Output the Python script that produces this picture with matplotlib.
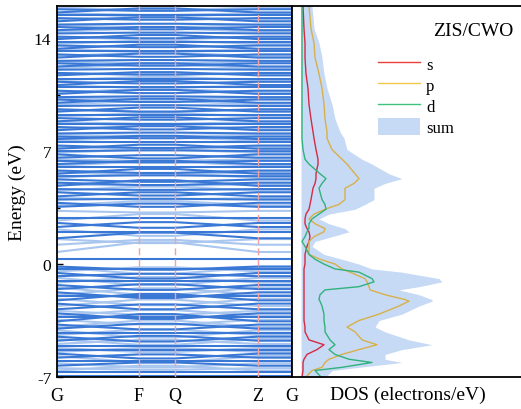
import numpy as np
import matplotlib
matplotlib.use("Agg")
import matplotlib.pyplot as plt
from matplotlib.patches import Patch
from matplotlib.lines import Line2D

plt.rcParams['font.family'] = ['Liberation Serif', 'DejaVu Serif']
plt.rcParams['axes.unicode_minus'] = False

# k-path (distance along path) and labels
k_nodes = [0, 82, 118, 201, 235]
k_labels = ["G", "F", "Q", "Z", "G"]

# bands: energy at G and at F (path G-F-Q-Z-G, F=Q, Z=G)
dark_val_G = [-0.15, -0.30, -0.55, -0.75, -1.05, -1.30, -1.55, -1.75, -2.00, -2.25, -2.45, -2.80, -3.05, -3.30,
              -3.55, -3.75, -4.00, -4.25, -4.50, -4.75, -5.10, -5.30, -5.55, -5.80, -6.00, -6.30, -6.70, -6.95]
dark_val_F = [-0.35, -0.30, -0.90, -0.60, -1.05, -1.60, -1.25, -2.10, -2.00, -1.85, -2.80, -2.50, -3.40, -3.30,
              -3.10, -4.05, -3.70, -4.25, -4.80, -4.45, -5.10, -5.30, -5.85, -5.60, -6.00, -6.10, -6.70, -6.95]
dark_gap_G = [0.30, 1.60, 2.00, 2.30, 2.55, 2.86]
dark_gap_F = [0.30, 1.95, 2.00, 2.60, 2.25, 2.86]
dark_con_G = [3.55, 3.80, 4.00, 4.20, 4.45, 4.65, 4.85, 5.05, 5.25, 5.45, 5.60, 5.80, 6.00, 6.20, 6.40, 6.60,
              6.80, 7.00, 7.15, 7.35, 7.55, 7.75, 7.90, 8.10, 8.30, 8.50, 8.70, 8.85, 9.05, 9.25, 9.45, 9.60,
              9.80, 10.00, 10.20, 10.35, 10.55, 10.75, 10.95, 11.10, 11.30, 11.50, 11.70, 11.85, 12.05, 12.25,
              12.45, 12.60, 12.80, 13.00, 13.20, 13.35, 13.55, 13.75, 13.95, 14.10, 14.30, 14.50, 14.70, 14.85,
              15.05, 15.25, 15.45, 15.60, 15.80]
dark_con_F = [3.75, 3.55, 4.05, 4.45, 4.25, 4.60, 5.20, 4.90, 5.10, 5.50, 5.90, 5.65, 6.00, 6.40, 6.30, 6.75,
              6.55, 7.05, 7.40, 7.20, 7.55, 7.95, 7.80, 8.15, 8.55, 8.35, 8.70, 9.10, 8.95, 9.25, 9.70, 9.45,
              9.85, 10.25, 10.05, 10.40, 10.80, 10.60, 10.95, 11.35, 11.20, 11.50, 11.90, 11.75, 12.10, 12.45,
              12.30, 12.65, 13.05, 12.85, 13.20, 13.60, 13.45, 13.75, 14.20, 14.00, 14.35, 14.70, 14.55, 14.90,
              15.30, 15.15, 15.45, 15.85, 15.70]

light_val_G = [-0.20, -0.45, -0.85, -1.15, -1.45, -1.90, -2.15, -2.60, -2.90, -3.20, -3.45, -3.90, -4.10, -4.40,
               -4.65, -4.95, -5.20, -5.45, -5.70, -6.15, -6.45, -6.60]
light_val_F = [-0.60, -0.20, -1.30, -0.80, -1.90, -1.50, -2.55, -2.20, -3.15, -2.85, -3.75, -3.50, -4.55, -4.05,
               -5.00, -4.70, -5.45, -5.20, -6.10, -6.40, -6.55, -6.30]
light_gap_G = [0.75, 1.20, 1.55, 2.15, 2.70, 3.30]
light_gap_F = [1.35, 1.50, 1.30, 1.75, 3.10, 3.20]
light_con_G = [3.65, 4.10, 4.55, 4.95, 5.35, 5.70, 6.10, 6.50, 6.90, 7.25, 7.65, 8.00, 8.40, 8.80, 9.15, 9.55,
               9.90, 10.30, 10.65, 11.05, 11.40, 11.80, 12.15, 12.55, 12.90, 13.30, 13.65, 14.05, 14.40, 14.80,
               15.15, 15.55, 15.90]
light_con_F = [3.90, 4.00, 4.80, 4.85, 5.60, 5.55, 6.35, 6.40, 7.10, 7.15, 7.85, 7.95, 8.60, 8.70, 9.35, 9.45,
               10.10, 10.25, 10.85, 10.95, 11.60, 11.75, 12.35, 12.45, 13.10, 13.20, 13.85, 13.95, 14.60, 14.70,
               15.35, 15.45, 15.75]

# DOS (projected)
dos_E = [16.0, 14.6, 13.7, 12.8, 11.8, 10.9, 9.9, 9.0, 8.2, 7.8, 7.1, 6.5, 6.2, 5.6, 5.3, 5.0, 4.7, 4.0, 3.7,
         3.4, 3.1, 2.8, 2.5, 2.2, 2.0, 1.7, 1.4, 1.1, 0.6, 0.3, 0.0, -0.3, -0.5, -0.9, -1.1, -1.4, -1.6, -1.9,
         -2.2, -2.3, -2.6, -3.1, -3.5, -3.9, -4.2, -4.7, -5.0, -5.3, -5.6, -5.9, -6.1, -6.4, -6.6, -7.0]
dos_s = [0.2, 0.3, 0.4, 0.4, 0.5, 0.7, 0.8, 1.0, 1.2, 1.3, 1.5, 1.7, 1.7, 1.5, 1.5, 1.4, 1.2, 1.0, 0.9,
         0.8, 0.5, 0.4, 0.4, 0.6, 0.8, 0.9, 0.8, 0.6, 0.4, 0.4, 0.4, 0.3, 0.3, 0.3, 0.3, 0.3, 0.3, 0.3,
         0.3, 0.3, 0.3, 0.3, 0.3, 0.4, 0.4, 0.8, 2.3, 1.6, 0.6, 0.3, 0.2, 0.2, 0.2, 0.1]
dos_p = [0.8, 1.0, 1.3, 1.4, 1.8, 2.1, 2.3, 2.4, 2.6, 2.6, 3.1, 4.1, 4.6, 5.4, 5.8, 5.3, 4.4, 4.4, 3.8,
         2.4, 1.3, 0.8, 1.4, 2.4, 2.3, 1.3, 0.8, 0.8, 0.8, 1.9, 3.4, 4.1, 4.9, 6.4, 6.6, 6.8, 6.9, 8.4,
         10.4, 10.8, 9.8, 7.8, 5.8, 4.6, 5.4, 6.1, 7.6, 5.8, 4.1, 2.8, 2.4, 2.1, 1.1, 0.5]
dos_d = [0.1, 0.1, 0.1, 0.1, 0.1, 0.1, 0.1, 0.1, 0.1, 0.1, 0.2, 0.4, 0.8, 1.9, 2.5, 2.1, 1.8, 2.1, 2.4,
         2.5, 1.8, 1.1, 0.8, 0.8, 0.6, 0.4, 0.1, 0.4, 0.8, 1.4, 2.3, 3.4, 5.8, 7.1, 7.3, 5.8, 2.4, 1.9,
         1.8, 1.9, 2.1, 2.3, 2.3, 2.4, 2.4, 2.9, 3.4, 2.8, 3.4, 4.8, 7.1, 4.1, 1.4, 2.0]
dos_sum = [1.1, 1.3, 1.8, 2.1, 2.3, 2.6, 3.1, 3.4, 3.9, 4.3, 4.6, 6.1, 7.1, 8.8, 10.1, 8.4, 7.3, 7.3, 6.4,
           5.4, 2.8, 1.8, 2.8, 4.4, 4.8, 3.1, 1.4, 1.1, 2.3, 4.1, 5.8, 7.1, 10.1, 13.8, 14.1, 11.8, 9.8, 11.8,
           13.1, 13.1, 11.8, 10.1, 7.8, 7.4, 8.4, 10.8, 13.1, 10.1, 8.4, 8.4, 10.1, 5.8, 3.1, 2.5]

dark_blue = "#3a78d6"
light_blue = "#a9c6ef"

fig = plt.figure(figsize=(5.21, 4.10), dpi=100)
ax1 = fig.add_axes([57 / 521, 1 - 378 / 410, 235 / 521, 371 / 410])
ax2 = fig.add_axes([292 / 521, 1 - 378 / 410, 232 / 521, 371 / 410])


def draw_bands(ax, eg, ef, color):
    for a, b in zip(eg, ef):
        ax.plot(k_nodes, [a, b, b, a, a], color=color, lw=1.5, solid_capstyle="butt")


draw_bands(ax1, light_val_G + light_gap_G + light_con_G, light_val_F + light_gap_F + light_con_F, light_blue)
draw_bands(ax1, dark_val_G + dark_gap_G + dark_con_G, dark_val_F + dark_gap_F + dark_con_F, dark_blue)

for k in k_nodes[1:4]:
    ax1.axvline(k, color="#f4a0a0", lw=1.0, ls=(0, (5, 3)), zorder=3)

ax1.set_xlim(k_nodes[0], k_nodes[-1])
ax1.set_ylim(-7, 16)
ax1.set_xticks(k_nodes)
ax1.set_xticklabels(k_labels, fontsize=13)
ax1.tick_params(axis="x", length=0, pad=7)
ax1.set_yticks([-7, 0, 7, 14])
ax1.set_yticks([-3.5, 3.5, 10.5], minor=True)
ax1.tick_params(axis="y", which="both", direction="in", length=4, width=1, labelsize=12.5, pad=4)
ax1.tick_params(axis="y", which="minor", length=2.5)
ax1.set_ylabel("Energy (eV)", fontsize=14, labelpad=6)
for sp in ax1.spines.values():
    sp.set_linewidth(1.3)

# DOS panel
ax2.fill_betweenx(dos_E, 0, dos_sum, color="#c7daf5", lw=0)
ax2.plot(dos_s, dos_E, color="#d42a44", lw=1.0)
ax2.plot(dos_p, dos_E, color="#d8b04a", lw=1.0)
ax2.plot(dos_d, dos_E, color="#2fb27c", lw=1.0)
ax2.set_xlim(-0.9, 22.3)
ax2.set_ylim(-7, 16)
ax2.set_xticks([])
ax2.set_yticks([])
ax2.set_xlabel("DOS (electrons/eV)", fontsize=14, labelpad=6)
for sp in ax2.spines.values():
    sp.set_linewidth(1.3)

ax2.text(0.78, 0.935, "ZIS/CWO", transform=ax2.transAxes, fontsize=14, ha="center", va="center")

handles = [Line2D([], [], color="#e8413c", lw=1.0),
           Line2D([], [], color="#f2c84b", lw=1.0),
           Line2D([], [], color="#3ec27e", lw=1.0),
           Patch(facecolor="#c7daf5", edgecolor="none")]
ax2.legend(handles, ["s", "p", "d", "sum"], loc="upper left", bbox_to_anchor=(0.37, 0.868),
           frameon=False, fontsize=12, handlelength=2.5, handleheight=1.25, labelspacing=0.15,
           handletextpad=0.4, borderpad=0, borderaxespad=0)

fig.savefig("out.png", dpi=100)
